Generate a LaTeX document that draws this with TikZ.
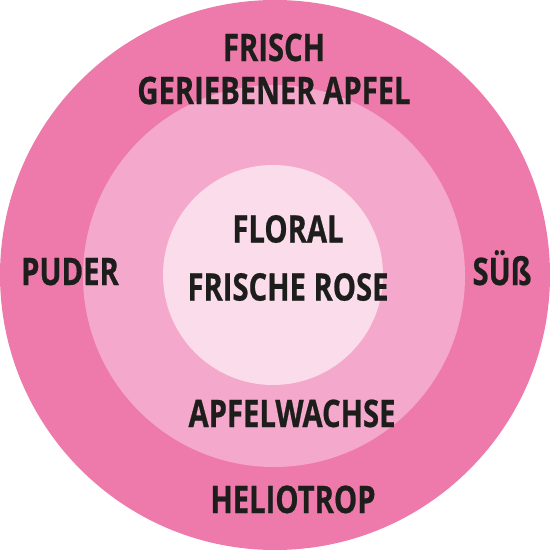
\documentclass[tikz,border=0pt]{standalone}
\usepackage{fontspec}
\newfontfamily\labelfont{Open Sans}[FakeStretch=0.77, BoldFeatures={FakeBold=0.6}]
\definecolor{ringouter}{HTML}{EE7AAB}
\definecolor{ringmiddle}{HTML}{F4A8CB}
\definecolor{ringinner}{HTML}{FBDCEA}
\definecolor{labelink}{HTML}{1D1D1B}

\begin{document}
\begin{tikzpicture}[x=0.02cm, y=-0.02cm,
	ring/.style={circle, inner sep=0pt, outer sep=0pt},
	note/.style={text=labelink, align=center, inner sep=0pt,
	font=\labelfont\bfseries\fontsize{21.6}{24.5}\selectfont}]
	\useasboundingbox (0,0) rectangle (550,550);
	% rings, outside in
	\node[ring, fill=ringouter, minimum size=550*0.02cm] (outer) at (275,275) {};
	\node[ring, fill=ringmiddle, minimum size=382*0.02cm] (middle) at (274,276) {};
	\node[ring, fill=ringinner, minimum size=220*0.02cm] (inner) at (273,275) {};
	% labels
	\node[note] (frisch) at (274,69) {FRISCH\\GERIEBENER APFEL};
	\node[note] (floral) at (288,258) {FLORAL\\[8.5pt]FRISCHE ROSE};
	\node[note, anchor=base] (puder) at (70,285) {PUDER};
	\node[note, anchor=base] (suess) at (502,285) {SÜß};
	\node[note, anchor=base] (wachs) at (292,427) {APFELWACHSE};
	\node[note, anchor=base] (helio) at (293,513) {HELIOTROP};
\end{tikzpicture}
\end{document}
